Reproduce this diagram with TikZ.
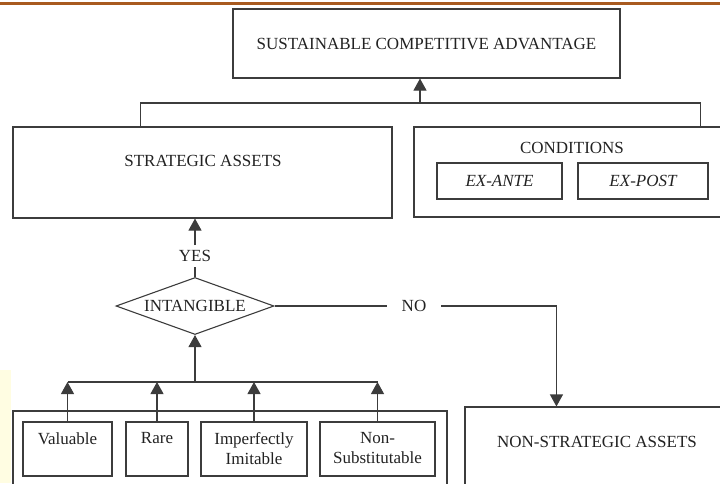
\documentclass[tikz,border=0pt]{standalone}
\usepackage{fontspec}
\setmainfont{Liberation Serif}
\usetikzlibrary{positioning, arrows.meta, shapes.geometric, calc}
\definecolor{lineGray}{HTML}{3C3C3C}
\definecolor{inkDark}{HTML}{222222}
\definecolor{slideRust}{HTML}{A85A1F}
\definecolor{slideCream}{HTML}{FFFDE2}

\begin{document}
\begin{tikzpicture}[
  x=1pt, y=-1pt,
  every node/.style={font=\fontsize{17}{20}\selectfont, text=inkDark},
  block/.style={
    rectangle, draw=lineGray, line width=1.1pt, inner sep=0pt
  },
  decision/.style={
    diamond, aspect=2.8, draw=lineGray, line width=1.1pt, inner sep=0pt,
    minimum width=158pt, minimum height=57pt
  },
  tag/.style={inner sep=2pt, align=center},
  link/.style={draw=lineGray, line width=1.1pt},
  arrow/.style={link, -{Triangle[length=12pt, width=13pt]}},
]
\useasboundingbox (0,0) rectangle (720,483);
\clip (0,0) rectangle (720,483);

% Slide decoration
\draw[slideRust, line width=3pt] (0,3.5) -- (720,3.5);
\fill[slideCream] (0,370) rectangle (11,483);

% Top level
\node[block, minimum width=387pt, minimum height=69pt] (sca) at (426.5,43.5)
  {SUSTAINABLE COMPETITIVE ADVANTAGE};

% Strategic assets and conditions
\node[block, minimum width=379pt, minimum height=91pt] (strat) at (202.5,172.5) {};
\node[tag] (stratlbl) at (203,161) {STRATEGIC ASSETS};

\node[block, minimum width=331pt, minimum height=90pt] (cond) at (579.5,172) {};
\node[tag] (condlbl) at (572,148) {CONDITIONS};
\node[block, minimum width=125pt, minimum height=36pt] (exante) at (499.5,181) {\itshape EX-ANTE};
\node[block, minimum width=130pt, minimum height=36pt] (expost) at (643,181) {\itshape EX-POST};

\coordinate (merge) at (420,103);
\draw[link] ([xshift=128pt]strat.north west) |- (merge) -| ([xshift=287pt]cond.north west);
\draw[arrow] (merge) -- (merge |- sca.south);

% Decision
\node[decision] (dec) at (195,306) {INTANGIBLE};
\node[tag, inner sep=5pt] (yes) at (195,256) {YES};
\draw[link] (dec.north) -- (yes.south);
\draw[arrow] (yes.north) -- (strat.south -| yes);

\node[tag, inner xsep=15pt] (no) at (414,306) {NO};
\node[block, minimum width=280pt, minimum height=103pt] (nonstrat) at (605,458.5) {};
\node[tag] (nonstratlbl) at (597,442) {NON-STRATEGIC ASSETS};
\draw[link] (dec.east) -- (no.west);
\draw[arrow] (no.east) -| ([xshift=92pt]nonstrat.north west);

% Resource attributes
\node[block, minimum width=434pt, minimum height=99pt] (crit) at (230,460.5) {};
\foreach \n/\cx/\w/\txt in {val/67.5/89/{Valuable}, rare/157/62/{Rare},
    imit/254/106/{Imperfectly\\Imitable}, nsub/377.5/115/{Non-\\Substitutable}} {
  \node[block, minimum width=\w pt, minimum height=54pt] (\n) at (\cx,449) {};
  \node[tag, below=9pt of \n.north] (\n lbl) {\txt};
}

\coordinate (fan) at (195,382);
\draw[link] (val.north |- fan) -- (nsub.north |- fan);
\foreach \n in {val,rare,imit,nsub}
  \draw[arrow] (\n.north) -- (\n.north |- fan);
\draw[arrow] (fan) -- (dec.south);

\end{tikzpicture}
\end{document}
